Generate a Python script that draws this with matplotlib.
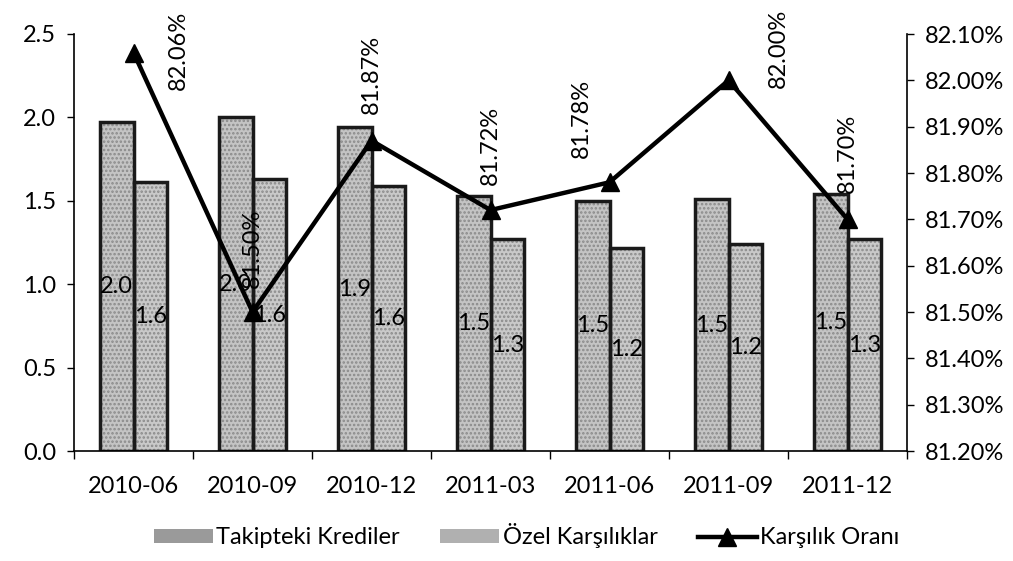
import matplotlib
matplotlib.use("Agg")
import matplotlib.pyplot as plt
from matplotlib.patches import Patch
import numpy as np

categories = ["2010-06", "2010-09", "2010-12", "2011-03", "2011-06", "2011-09", "2011-12"]
takipteki = [1.97, 2.00, 1.94, 1.53, 1.50, 1.51, 1.54]
ozel = [1.61, 1.63, 1.59, 1.27, 1.22, 1.24, 1.27]
oran = [82.06, 81.50, 81.87, 81.72, 81.78, 82.00, 81.70]
left_ticks = [0.0, 0.5, 1.0, 1.5, 2.0, 2.5]
right_ticks = [81.2, 81.3, 81.4, 81.5, 81.6, 81.7, 81.8, 81.9, 82.0, 82.1]

# label offsets (pixels) for the rotated percentage labels
label_offsets = [(45, 2), (0, 64), (0, 66), (0, 65), (-28, 64), (50, 32), (0, 66)]

plt.rcParams['font.family'] = ['Lato', 'DejaVu Sans']
plt.rcParams['hatch.linewidth'] = 1.2

W, H = 1013, 561
fig = plt.figure(figsize=(W / 100, H / 100), dpi=100)
L, R, B, T = 74, 907, 451, 34
ax = fig.add_axes([L / W, 1 - B / H, (R - L) / W, (B - T) / H])

x = np.arange(len(categories))
bw = 0.28

def textured_bars(xpos, vals, face, label):
    ax.bar(xpos, vals, bw, color=face, edgecolor="#8a8a8a", linewidth=0,
           hatch="....", zorder=2)
    return ax.bar(xpos, vals, bw, facecolor="none", edgecolor="#1a1a1a",
                  linewidth=2.5, zorder=2.5, label=label)

b1 = textured_bars(x - bw / 2, takipteki, "#c4c4c4", "Takipteki Krediler")
b2 = textured_bars(x + bw / 2, ozel, "#c9c9c9", "Özel Karşılıklar")

for rect, v in zip(b1, takipteki):
    ax.text(rect.get_x() + rect.get_width() / 2, v / 2, f"{v:.1f}",
            ha="center", va="center", fontsize=17, color="black", zorder=3)
for rect, v in zip(b2, ozel):
    ax.text(rect.get_x() + rect.get_width() / 2, v / 2, f"{v:.1f}",
            ha="center", va="center", fontsize=17, color="black", zorder=3)

ax.set_xlim(-0.5, len(categories) - 0.5)
ax.set_ylim(0, 2.5)
ax.set_yticks(left_ticks)
ax.set_yticklabels([f"{t:.1f}" for t in left_ticks], fontsize=17)
ax.set_xticks(x)
ax.set_xticklabels(categories, fontsize=17)
ax.set_xticks(np.arange(-0.5, len(categories)), minor=True)
ax.tick_params(axis="x", which="major", length=0, pad=18)
ax.tick_params(axis="x", which="minor", length=6, width=1, color="black", direction="out")
ax.tick_params(axis="y", length=5, width=1, direction="out", pad=8)
ax.spines["top"].set_visible(False)
ax.spines["right"].set_visible(False)
for s in ["left", "bottom"]:
    ax.spines[s].set_linewidth(1.2)
    ax.spines[s].set_color("black")

ax2 = ax.twinx()
ax2.set_position(ax.get_position())
line, = ax2.plot(x, oran, color="black", linewidth=3.2, marker="^", markersize=13,
                 label="Karşılık Oranı", zorder=4)
ax2.set_ylim(81.2, 82.1)
ax2.set_yticks(right_ticks)
ax2.set_yticklabels([f"{t:.2f}%" for t in right_ticks], fontsize=17)
ax2.tick_params(axis="y", length=5, width=1, direction="out", pad=8)
ax2.spines["top"].set_visible(False)
ax2.spines["left"].set_visible(False)
ax2.spines["bottom"].set_visible(False)
ax2.spines["right"].set_linewidth(1.2)

for xi, v, (dx, dy) in zip(x, oran, label_offsets):
    ax2.annotate(f"{v:.2f}%", xy=(xi, v), xytext=(dx, dy), textcoords="offset pixels",
                 rotation=90, ha="center", va="center", fontsize=17, color="black",
                 zorder=5, annotation_clip=False)

h1 = Patch(facecolor="#9a9a9a", edgecolor="none")
h2 = Patch(facecolor="#b0b0b0", edgecolor="none")
handles = [h1, h2, line]
labels = ["Takipteki Krediler", "Özel Karşılıklar", "Karşılık Oranı"]
fig.legend(handles, labels, loc="center", bbox_to_anchor=(0.52, 1 - 536 / H), ncol=3,
           frameon=False, fontsize=17, handlelength=2.5, handleheight=0.5,
           handletextpad=0.15, columnspacing=1.7)

fig.savefig("out.png", dpi=100, facecolor="white")
